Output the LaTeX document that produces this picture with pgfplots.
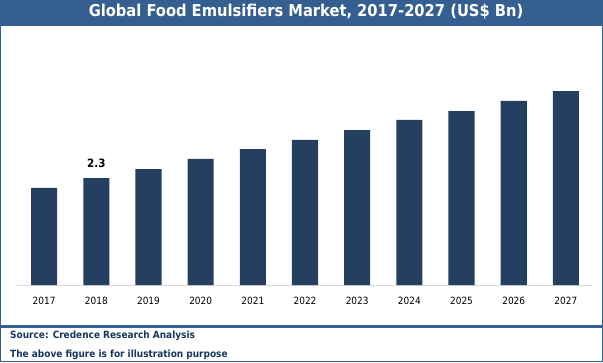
\documentclass[border=0pt]{standalone}
\usepackage{pgfplots}
\pgfplotsset{compat=1.18}
\usepackage{fontspec}
\setmainfont{DejaVu Sans Condensed}
\definecolor{titleblue}{HTML}{365F91}
\definecolor{barblue}{HTML}{243F60}
\definecolor{srcblue}{HTML}{17365D}
\definecolor{basegray}{HTML}{D9D9D9}
\begin{document}
\begin{tikzpicture}[x=1bp,y=1bp]
\path[use as bounding box] (0,0) rectangle (603,362);
% title bar
\fill[titleblue] (0,336) rectangle (603,362);
\node[anchor=base, text=white, font=\bfseries\fontsize{16.4}{18}\selectfont, inner sep=0pt] at (306,346) {Global Food Emulsifiers Market, 2017-2027 (US\$ Bn)};
% boxes
\draw[titleblue, line width=1.2bp] (0.8,36.5) rectangle (602.2,361.4);
\draw[titleblue, line width=1.2bp] (0.8,0.8) rectangle (602.2,35);
\node[anchor=base west, text=srcblue, font=\bfseries\fontsize{10}{11}\selectfont, inner sep=0pt] at (10,24) {Source: Credence Research Analysis};
\node[anchor=base west, text=srcblue, font=\bfseries\fontsize{10}{11}\selectfont, inner sep=0pt] at (10,5) {The above figure is for illustration purpose};
\begin{axis}[
  at={(17bp,77bp)}, anchor=south west,
  scale only axis, width=576bp, height=255.86bp,
  xmin=-0.52, xmax=10.52, ymin=0, ymax=5.5,
  axis x line*=bottom, axis y line=none,
  x axis line style={basegray, line width=1bp, -},
  xtick={0,...,10},
  xticklabels={2017,2018,2019,2020,2021,2022,2023,2024,2025,2026,2027},
  major tick length=0pt,
  xticklabel style={font=\fontsize{10}{11}\selectfont, inner sep=0pt, anchor=north, yshift=-11.5bp},
  ytick=\empty,
  clip=false,
  point meta=explicit symbolic,
  nodes near coords={\pgfplotspointmeta},
  nodes near coords style={font=\bfseries\fontsize{11.5}{12}\selectfont, text=black, inner sep=0pt, anchor=south, yshift=10bp},
]
\addplot[ybar, bar width=0.5, fill=barblue, draw=none] coordinates {
(0,2.09) []
(1,2.30) [2.3]
(2,2.49) []
(3,2.71) []
(4,2.92) []
(5,3.12) []
(6,3.33) []
(7,3.55) []
(8,3.74) []
(9,3.96) []
(10,4.17) []
};
\end{axis}
\end{tikzpicture}
\end{document}
